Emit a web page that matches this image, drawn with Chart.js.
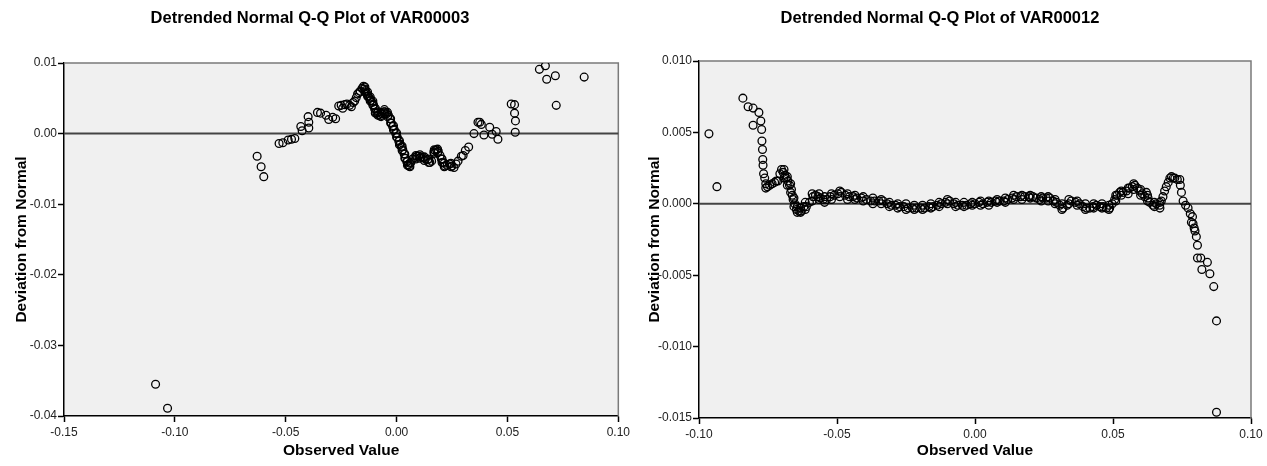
<!DOCTYPE html>
<html lang="en">
<head>
  <meta charset="UTF-8">
  <title>Detrended Normal Q-Q Plots</title>
  <script src="https://cdn.jsdelivr.net/npm/chart.js"></script>
  <style>
    html, body { margin: 0; padding: 0; background: #ffffff; }
    .wrap { position: absolute; top: 0; height: 466px; }
  </style>
</head>
<body>
  <div class="wrap" style="left:0; width:633px"><canvas id="plotA" width="633" height="466"></canvas></div>
  <div class="wrap" style="left:633px; width:634px"><canvas id="plotB" width="634" height="466"></canvas></div>

  <script>
    // VAR00003: observed value vs deviation from normal
    const obsA = [
      -0.1087, -0.1033, -0.0629, -0.0611, -0.0599, -0.0530, -0.0513, -0.0489, -0.0474, -0.0459,
      -0.0432, -0.0426, -0.0396, -0.0396, -0.0399, -0.0357, -0.0343, -0.0318, -0.0306, -0.0288,
      -0.0275, -0.0261, -0.0250, -0.0243, -0.0234, -0.0224, -0.0212, -0.0204, -0.0196, -0.0189,
      -0.0182, -0.0176, -0.0170, -0.0164, -0.0156, -0.0149, -0.0145, -0.0140, -0.0134, -0.0128,
      -0.0122, -0.0116, -0.0110, -0.0104, -0.0099, -0.0095, -0.0088, -0.0080, -0.0074, -0.0066,
      -0.0058, -0.0052, -0.0045, -0.0037, -0.0030, -0.0024, -0.0018, -0.0011, -0.0004, 0.0003,
      0.0010, 0.0016, 0.0022, 0.0028, 0.0034, 0.0040, 0.0046, 0.0052, 0.0057, 0.0064,
      0.0072, 0.0082, 0.0092, 0.0100, 0.0110, 0.0120, 0.0130, 0.0140, 0.0150, 0.0158,
      0.0168, 0.0173, 0.0180, 0.0188, 0.0196, 0.0202, 0.0210, 0.0218, 0.0228, 0.0240,
      0.0250, 0.0259, 0.0268, 0.0277, 0.0292, 0.0300, 0.0310, 0.0325, 0.0349, 0.0367,
      0.0375, 0.0382, 0.0394, 0.0420, 0.0431, 0.0449, 0.0457, 0.0517, 0.0532, 0.0532,
      0.0536, 0.0535, 0.0644, 0.0671, 0.0677, 0.0716, 0.0720, 0.0846
    ];
    const devA = [
      -0.0355, -0.0389, -0.0032, -0.0047, -0.0061, -0.0014, -0.0013, -0.0009, -0.0008, -0.0007,
      0.0010, 0.0004, 0.0008, 0.0016, 0.0024, 0.0030, 0.0029, 0.0026, 0.0020, 0.0023,
      0.0021, 0.0039, 0.0040, 0.0036, 0.0041, 0.0042, 0.0040, 0.0038, 0.0044, 0.0046,
      0.0051, 0.0056, 0.0058, 0.0060, 0.0064, 0.0067, 0.0063, 0.0061, 0.0057, 0.0053,
      0.0050, 0.0047, 0.0044, 0.0041, 0.0035, 0.0030, 0.0029, 0.0027, 0.0025, 0.0028,
      0.0031, 0.0031, 0.0028, 0.0026, 0.0021, 0.0015, 0.0010, 0.0006, 0.0000, -0.0005,
      -0.0011, -0.0015, -0.0019, -0.0023, -0.0029, -0.0035, -0.0040, -0.0044, -0.0046, -0.0041,
      -0.0036, -0.0034, -0.0032, -0.0032, -0.0033, -0.0034, -0.0036, -0.0037, -0.0041, -0.0039,
      -0.0026, -0.0024, -0.0023, -0.0025, -0.0031, -0.0036, -0.0041, -0.0046, -0.0045, -0.0043,
      -0.0046, -0.0048, -0.0043, -0.0039, -0.0032, -0.0031, -0.0024, -0.0019, 0.0000, 0.0016,
      0.0016, 0.0013, -0.0002, 0.0009, -0.0001, 0.0003, -0.0008, 0.0042, 0.0041, 0.0029,
      0.0018, 0.0002, 0.0091, 0.0096, 0.0077, 0.0082, 0.0040, 0.0080
    ];
    // upper / lower edge of the dense run (pairs share one observed value)
    const obsA2 = [
      -0.0143, -0.0131, -0.0119, -0.0107, -0.0096, -0.0084, -0.0070, -0.0055, -0.0041, -0.0027,
      -0.0014, 0.0000, 0.0013, 0.0025, 0.0037, 0.0049, 0.0060, 0.0087, 0.0105, 0.0125,
      0.0145, 0.0170, 0.0185, 0.0205, 0.0215, 0.0245
    ];
    const devA2Hi = [
      0.0066, 0.0059, 0.0052, 0.0046, 0.0036, 0.0031, 0.0029, 0.0034, 0.0030, 0.0021,
      0.0011, 0.0001, -0.0010, -0.0018, -0.0029, -0.0039, -0.0042, -0.0031, -0.0030, -0.0033,
      -0.0036, -0.0023, -0.0022, -0.0036, -0.0042, -0.0042
    ];
    const devA2Lo = [
      0.0059, 0.0053, 0.0046, 0.0040, 0.0029, 0.0026, 0.0024, 0.0028, 0.0024, 0.0015,
      0.0005, -0.0005, -0.0016, -0.0024, -0.0035, -0.0045, -0.0047, -0.0036, -0.0035, -0.0038,
      -0.0041, -0.0028, -0.0027, -0.0041, -0.0047, -0.0047
    ];

    // VAR00012
    const obsB = [
      -0.0964, -0.0935, -0.0841, -0.0822, -0.0804, -0.0804, -0.0783, -0.0776, -0.0773, -0.0772,
      -0.0770, -0.0769, -0.0768, -0.0766, -0.0762, -0.0758, -0.0758, -0.0752, -0.0744, -0.0735,
      -0.0726, -0.0720, -0.0714, -0.0707, -0.0701, -0.0695, -0.0689, -0.0684, -0.0678, -0.0672,
      -0.0665, -0.0662, -0.0659, -0.0653, -0.0647, -0.0638, -0.0629, -0.0620, -0.0611, -0.0600,
      -0.0587, -0.0578, -0.0569, -0.0560, -0.0550, -0.0538, -0.0525, -0.0510, -0.0497, -0.0484,
      -0.0470, -0.0455, -0.0442, -0.0428, -0.0412, -0.0393, -0.0378, -0.0363, -0.0348, -0.0333,
      -0.0318, -0.0303, -0.0288, -0.0273, -0.0258, -0.0242, -0.0227, -0.0212, -0.0197, -0.0182,
      -0.0167, -0.0152, -0.0137, -0.0122, -0.0107, -0.0092, -0.0077, -0.0062, -0.0046, -0.0031,
      -0.0016, 0.0000, 0.0015, 0.0029, 0.0044, 0.0059, 0.0074, 0.0089, 0.0104, 0.0119,
      0.0135, 0.0150, 0.0165, 0.0180, 0.0195, 0.0210, 0.0222, 0.0234, 0.0245, 0.0258,
      0.0271, 0.0283, 0.0295, 0.0307, 0.0319, 0.0334, 0.0349, 0.0364, 0.0379, 0.0391,
      0.0404, 0.0416, 0.0428, 0.0440, 0.0452, 0.0464, 0.0476, 0.0488, 0.0497, 0.0506,
      0.0515, 0.0524, 0.0536, 0.0549, 0.0560, 0.0570, 0.0579, 0.0588, 0.0597, 0.0606,
      0.0615, 0.0621, 0.0627, 0.0633, 0.0645, 0.0657, 0.0669, 0.0675, 0.0681, 0.0687,
      0.0693, 0.0700, 0.0706, 0.0712, 0.0718, 0.0724, 0.0733, 0.0742, 0.0744, 0.0748,
      0.0754, 0.0763, 0.0772, 0.0780, 0.0788, 0.0784, 0.0790, 0.0794, 0.0797, 0.0802,
      0.0806, 0.0806, 0.0818, 0.0822, 0.0842, 0.0851, 0.0865, 0.0875, 0.0875
    ];
    const devB = [
      0.0049, 0.0012, 0.0074, 0.0068, 0.0067, 0.0055, 0.0064, 0.0058, 0.0052, 0.0044,
      0.0038, 0.0031, 0.0027, 0.0021, 0.0018, 0.0014, 0.0011, 0.0012, 0.0013, 0.0014,
      0.0015, 0.0016, 0.0016, 0.0021, 0.0024, 0.0022, 0.0020, 0.0018, 0.0016, 0.0013,
      0.0010, 0.0006, 0.0003, 0.0000, -0.0004, -0.0005, -0.0005, -0.0002, -0.0002, 0.0001,
      0.0005, 0.0006, 0.0005, 0.0004, 0.0003, 0.0003, 0.0005, 0.0006, 0.0007, 0.0008,
      0.0006, 0.0005, 0.0005, 0.0004, 0.0004, 0.0003, 0.0002, 0.0002, 0.0002, 0.0002,
      0.0000, -0.0001, -0.0001, -0.0002, -0.0002, -0.0003, -0.0003, -0.0003, -0.0003, -0.0003,
      -0.0002, -0.0002, -0.0001, 0.0000, 0.0001, 0.0002, 0.0000, -0.0001, -0.0001, -0.0001,
      0.0000, 0.0000, 0.0001, 0.0000, 0.0001, 0.0001, 0.0002, 0.0002, 0.0002, 0.0003,
      0.0004, 0.0005, 0.0005, 0.0005, 0.0005, 0.0005, 0.0004, 0.0003, 0.0004, 0.0004,
      0.0004, 0.0002, 0.0001, -0.0001, -0.0003, -0.0001, 0.0002, 0.0001, 0.0000, -0.0002,
      -0.0003, -0.0003, -0.0002, -0.0001, -0.0002, -0.0002, -0.0003, -0.0003, 0.0000, 0.0003,
      0.0006, 0.0008, 0.0008, 0.0009, 0.0011, 0.0012, 0.0013, 0.0011, 0.0009, 0.0007,
      0.0005, 0.0008, 0.0004, 0.0001, -0.0001, 0.0000, -0.0001, 0.0002, 0.0005, 0.0009,
      0.0012, 0.0015, 0.0018, 0.0019, 0.0018, 0.0018, 0.0017, 0.0017, 0.0013, 0.0008,
      0.0002, -0.0001, -0.0003, -0.0007, -0.0009, -0.0013, -0.0014, -0.0017, -0.0019, -0.0023,
      -0.0029, -0.0038, -0.0038, -0.0046, -0.0041, -0.0049, -0.0058, -0.0082, -0.0146
    ];
    // upper / lower edge of the thick band
    const obsB2 = [
      -0.0692, -0.0680, -0.0668, -0.0656, -0.0644, -0.0632, -0.0615, -0.0590, -0.0565, -0.0545,
      -0.0520, -0.0490, -0.0462, -0.0435, -0.0405, -0.0370, -0.0340, -0.0310, -0.0280, -0.0250,
      -0.0220, -0.0190, -0.0160, -0.0130, -0.0100, -0.0070, -0.0040, -0.0010, 0.0020, 0.0050,
      0.0080, 0.0110, 0.0140, 0.0170, 0.0200, 0.0240, 0.0265, 0.0290, 0.0315, 0.0340,
      0.0370, 0.0400, 0.0430, 0.0460, 0.0485, 0.0510, 0.0530, 0.0555, 0.0575, 0.0600,
      0.0625, 0.0650, 0.0670
    ];
    const devB2Hi = [
      0.0024, 0.0019, 0.0014, 0.0004, -0.0002, -0.0003, 0.0001, 0.0007, 0.0007, 0.0005,
      0.0007, 0.0009, 0.0007, 0.0006, 0.0005, 0.0004, 0.0003, 0.0001, 0.0000, 0.0000,
      -0.0001, -0.0001, 0.0000, 0.0001, 0.0003, 0.0001, 0.0001, 0.0001, 0.0002, 0.0002,
      0.0003, 0.0004, 0.0006, 0.0006, 0.0006, 0.0005, 0.0005, 0.0003, 0.0000, 0.0003,
      0.0002, 0.0000, 0.0000, 0.0000, -0.0001, 0.0006, 0.0009, 0.0011, 0.0014, 0.0010,
      0.0006, 0.0001, 0.0001
    ];
    const devB2Lo = [
      0.0018, 0.0013, 0.0008, -0.0002, -0.0006, -0.0006, -0.0004, 0.0002, 0.0003, 0.0001,
      0.0003, 0.0005, 0.0003, 0.0003, 0.0002, 0.0000, 0.0000, -0.0002, -0.0003, -0.0004,
      -0.0004, -0.0004, -0.0003, -0.0002, 0.0000, -0.0002, -0.0002, -0.0001, -0.0001, -0.0001,
      0.0001, 0.0001, 0.0003, 0.0003, 0.0004, 0.0002, 0.0002, 0.0000, -0.0004, 0.0000,
      -0.0001, -0.0004, -0.0003, -0.0003, -0.0004, 0.0002, 0.0006, 0.0007, 0.0010, 0.0006,
      0.0002, -0.0002, -0.0003
    ];

    const titleA = 'Detrended Normal Q-Q Plot of VAR00003';
    const titleB = 'Detrended Normal Q-Q Plot of VAR00012';
    const xTicksA = [-0.15, -0.10, -0.05, 0.00, 0.05, 0.10];
    const yTicksA = [-0.04, -0.03, -0.02, -0.01, 0.00, 0.01];
    const xTicksB = [-0.10, -0.05, 0.00, 0.05, 0.10];
    const yTicksB = [-0.015, -0.010, -0.005, 0.000, 0.005, 0.010];

    const FONT = '"Liberation Sans", Arial, sans-serif';

    // grey panel, reference line at zero, title
    const qqFrame = {
      id: 'qqFrame',
      beforeDraw(chart, args, opts) {
        const { ctx, chartArea: a } = chart;
        ctx.save();
        ctx.fillStyle = '#f0f0f0';
        ctx.fillRect(a.left, a.top, a.right - a.left, a.bottom - a.top);
        ctx.fillStyle = '#000';
        ctx.font = 'bold 16.5px ' + FONT;
        ctx.textAlign = 'center';
        ctx.textBaseline = 'middle';
        ctx.fillText(opts.text, opts.cx, 18);
        ctx.restore();
      },
      beforeDatasetsDraw(chart) {
        const { ctx, chartArea: a, scales } = chart;
        const y0 = scales.y.getPixelForValue(0);
        ctx.save();
        ctx.strokeStyle = '#7a7a7a';
        ctx.lineWidth = 1.5;
        ctx.beginPath();
        ctx.moveTo(a.left, a.top);
        ctx.lineTo(a.right, a.top);
        ctx.lineTo(a.right, a.bottom);
        ctx.stroke();
        ctx.strokeStyle = '#444';
        ctx.lineWidth = 2;
        ctx.beginPath();
        ctx.moveTo(a.left, y0);
        ctx.lineTo(a.right, y0);
        ctx.stroke();
        ctx.restore();
      }
    };

    function toPoints(xs, ys) {
      return xs.map((v, i) => ({ x: v, y: ys[i] }));
    }

    function makePlot(id, pts, xTicks, yTicks, dec, title, box) {
      return new Chart(document.getElementById(id), {
        type: 'scatter',
        data: {
          datasets: [{
            data: pts,
            pointStyle: 'circle',
            pointRadius: 3.9,
            pointBorderWidth: 1.3,
            pointBorderColor: '#000',
            pointBackgroundColor: 'rgba(0,0,0,0)'
          }]
        },
        options: {
          responsive: false,
          animation: false,
          layout: { autoPadding: false, padding: { top: box.top, right: box.right, left: 0, bottom: 0 } },
          plugins: {
            legend: { display: false },
            tooltip: { enabled: false },
            qqFrame: { text: title, cx: box.titleX }
          },
          scales: {
            x: {
              type: 'linear',
              min: xTicks[0], max: xTicks[xTicks.length - 1],
              afterFit: s => { s.height = box.xh; },
              afterBuildTicks: s => { s.ticks = xTicks.map(v => ({ value: v })); },
              ticks: {
                callback: v => v.toFixed(2),
                font: { family: FONT, size: 12 }, color: '#222', padding: 3, maxRotation: 0
              },
              grid: { drawOnChartArea: false, drawTicks: true, tickLength: 6, tickColor: '#000', tickWidth: 1.5 },
              border: { color: '#000', width: 1.5 },
              title: {
                display: true, text: 'Observed Value', color: '#000',
                font: { family: FONT, size: 15.5, weight: 'bold' }, padding: { top: 0, bottom: 6 }
              }
            },
            y: {
              type: 'linear',
              min: yTicks[0], max: yTicks[yTicks.length - 1],
              afterFit: s => { s.width = box.yw; },
              afterBuildTicks: s => { s.ticks = yTicks.map(v => ({ value: v })); },
              ticks: {
                callback: v => v.toFixed(dec),
                font: { family: FONT, size: 12 }, color: '#222', padding: 1
              },
              grid: { drawOnChartArea: false, drawTicks: true, tickLength: 6, tickColor: '#000', tickWidth: 1.5 },
              border: { color: '#000', width: 1.5 },
              title: {
                display: true, text: 'Deviation from Normal', color: '#000',
                font: { family: FONT, size: 15.5, weight: 'bold' }, padding: { top: 12, bottom: 0 }
              }
            }
          }
        },
        plugins: [qqFrame]
      });
    }

    const ptsA = toPoints(obsA, devA)
      .concat(toPoints(obsA2, devA2Hi))
      .concat(toPoints(obsA2, devA2Lo));
    const ptsB = toPoints(obsB, devB)
      .concat(toPoints(obsB2, devB2Hi))
      .concat(toPoints(obsB2, devB2Lo));

    makePlot('plotA', ptsA, xTicksA, yTicksA, 2, titleA,
      { top: 63, right: 13, xh: 50, yw: 64, titleX: 310 });
    makePlot('plotB', ptsB, xTicksB, yTicksB, 3, titleB,
      { top: 61, right: 16, xh: 48, yw: 66, titleX: 307 });
  </script>
</body>
</html>
